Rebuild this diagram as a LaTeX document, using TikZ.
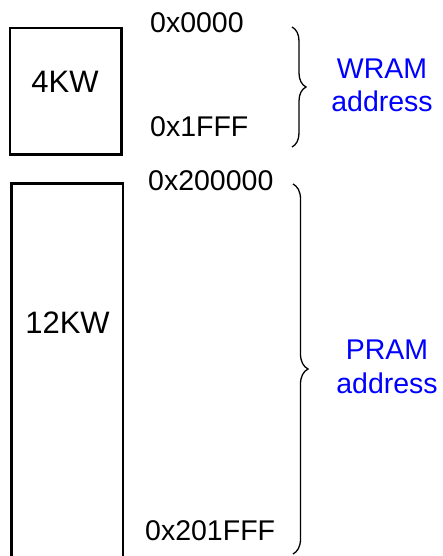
\documentclass[tikz,border=0pt]{standalone}
\usepackage{fontspec}
\setmainfont{Liberation Sans}
\usetikzlibrary{decorations.pathreplacing}
\definecolor{lblblue}{RGB}{0,0,255}
\begin{document}
\begin{tikzpicture}[x=1pt,y=-1pt,
  membox/.style={draw=black,line width=2.5pt,inner sep=0pt,minimum width=111.5pt},
  boxlabel/.style={inner sep=0pt,anchor=base,font=\fontsize{31}{36}\selectfont},
  addr/.style={inner sep=0pt,anchor=base west,font=\fontsize{28.5}{33}\selectfont},
  region/.style={inner sep=0pt,anchor=base,align=center,text=lblblue,font=\fontsize{28.5}{33.5}\selectfont},
  bracedeco/.style={draw=black,line width=1.3pt,decorate,decoration={brace,amplitude=#1}}]
\useasboundingbox (0,0) rectangle (443,556);
\clip (0,0) rectangle (443,556);
% boxes
\node[membox,minimum height=126.5pt] (wbox) at (65.75,91.5) {};
\node[membox,minimum height=500pt] (pbox) at (67,433.25) {};
\node[boxlabel] (wlab) at (65,93) {4KW};
\node[boxlabel] (plab) at (67.5,333) {12KW};
% addresses
\node[addr] (a1) at (150,33) {0x0000};
\node[addr] (a2) at (150,137) {0x1FFF};
\node[addr] (a3) at (148,190) {0x200000};
\node[addr] (a4) at (145,540) {0x201FFF};
% braces
\coordinate (wtop) at (292,27);
\coordinate (wbot) at (292,147);
\coordinate (ptop) at (293,184);
\coordinate (pbot) at (293,554);
\draw[bracedeco=14pt] (wtop) -- (wbot);
\draw[bracedeco=15pt] (ptop) -- (pbot);
% region labels
\node[region] (wram) at (382,112) {WRAM\\address};
\node[region] (pram) at (387,393) {PRAM\\address};
\end{tikzpicture}
\end{document}
